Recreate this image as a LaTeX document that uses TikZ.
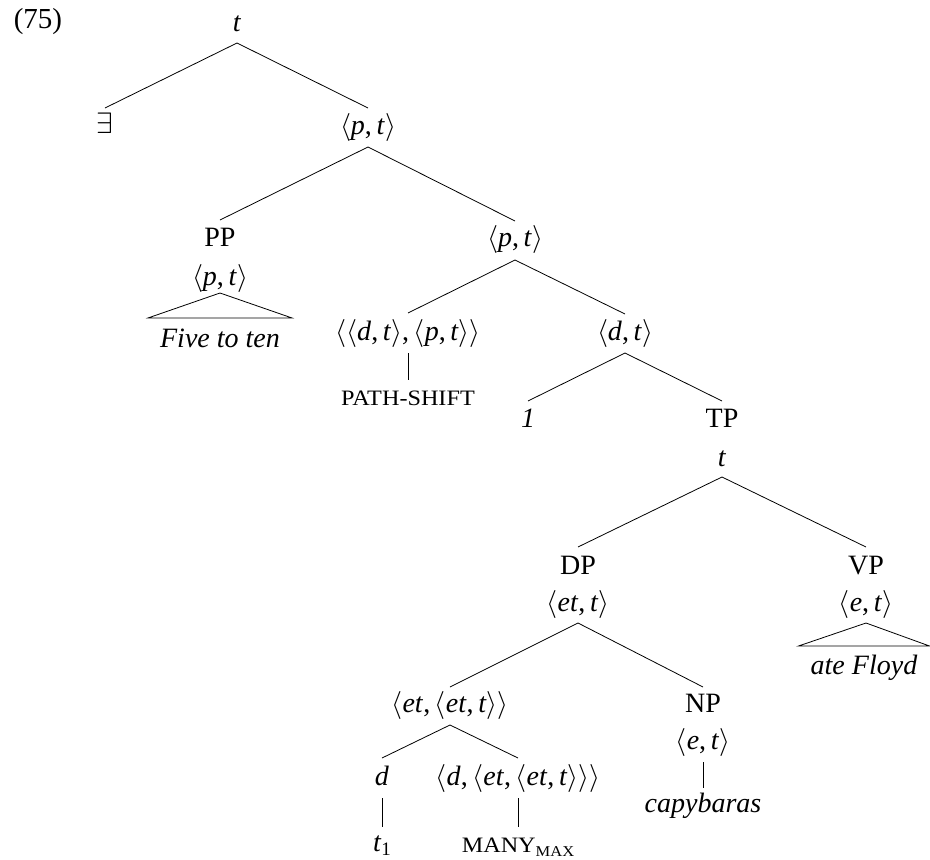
\documentclass[tikz,border=0pt]{standalone}
\usepackage{fontspec}
\usepackage{unicode-math}
\setmainfont{Liberation Serif}
\usepackage{graphicx}
\newcommand\Lb{$\langle$}
\newcommand\Rb{$\rangle$}
\newcommand\vi[1]{\textit{#1}}
\newcommand\Cm{,\,}
\newcommand\smc[1]{\scalebox{1.1}[1]{\fontsize{22}{26}\selectfont #1}}
\begin{document}
\begin{tikzpicture}[x=1pt,y=-1pt,
  every node/.style={font=\fontsize{28}{34}\selectfont, inner sep=0pt, anchor=base},
  edge/.style={line width=0.8pt},
  leaf/.style={inner xsep=12pt}]
\useasboundingbox (0,0) rectangle (930,860);
% nodes
\node (ex) at (38,28) {\fontsize{29}{34}\selectfont(75)};
\node (root) at (237,31) {\vi{t}};
\node (exists) at (105,133) {\fontsize{30}{34}\selectfont$\exists$};
\node (pt1) at (368,134) {\Lb\vi{p}\Cm\vi{t}\Rb};
\node (PP) at (220,246) {PP};
\node (ptPP) at (220,285) {\Lb\vi{p}\Cm\vi{t}\Rb};
\node[leaf] (five) at (220,347) {\vi{Five to ten}};
\node (pt2) at (515,246) {\Lb\vi{p}\Cm\vi{t}\Rb};
\node (dtpt) at (408,340) {\Lb\Lb\vi{d}\Cm\vi{t}\Rb\Cm\Lb\vi{p}\Cm\vi{t}\Rb\Rb};
\node (dt) at (625,340) {\Lb\vi{d}\Cm\vi{t}\Rb};
\node (shift) at (408,405) {\smc{PATH-SHIFT}};
\node (one) at (528,427) {\vi{1}};
\node (TP) at (722,427) {TP};
\node (tTP) at (722,466) {\vi{t}};
\node (DP) at (578,574) {DP};
\node (ettt) at (578,611) {\Lb\vi{et}\Cm\vi{t}\Rb};
\node (VP) at (866,574) {VP};
\node (etVP) at (866,611) {\Lb\vi{e}\Cm\vi{t}\Rb};
\node[leaf] (floyd) at (864,674) {\vi{ate Floyd}};
\node (eet) at (450,712) {\Lb\vi{et}\Cm\Lb\vi{et}\Cm\vi{t}\Rb\Rb};
\node (NP) at (703,712) {NP};
\node (etNP) at (703,749) {\Lb\vi{e}\Cm\vi{t}\Rb};
\node (capy) at (703,812) {\vi{capybaras}};
\node (d) at (382,785) {\vi{d}};
\node (many) at (518,785) {\Lb\vi{d}\Cm\Lb\vi{et}\Cm\Lb\vi{et}\Cm\vi{t}\Rb\Rb\Rb};
\node (t1) at (382,851) {\vi{t}\raisebox{-4pt}{\fontsize{19}{20}\selectfont 1}};
\node (manymax) at (518,852) {\smc{MANY}\raisebox{-4pt}{\scalebox{1.1}[1]{\fontsize{15}{17}\selectfont MAX}}};
% edges
\draw[edge] ([yshift=-12pt]root.base) -- ([yshift=25pt]exists.base);
\draw[edge] ([yshift=-12pt]root.base) -- ([yshift=26pt]pt1.base);
\draw[edge] ([yshift=-13pt]pt1.base) -- ([yshift=26pt]PP.base);
\draw[edge] ([yshift=-13pt]pt1.base) -- ([yshift=25pt]pt2.base);
\draw[edge] ([yshift=-8pt]ptPP.base) -- ([yshift=29pt]five.base west) -- ([yshift=29pt]five.base east) -- cycle;
\draw[edge] ([yshift=-14pt]pt2.base) -- ([yshift=27pt]dtpt.base);
\draw[edge] ([yshift=-14pt]pt2.base) -- ([yshift=26pt]dt.base);
\draw[edge] ([yshift=-13pt]dtpt.base) -- ([yshift=25pt]shift.base);
\draw[edge] ([yshift=-13pt]dt.base) -- ([yshift=26pt]one.base);
\draw[edge] ([yshift=-13pt]dt.base) -- ([yshift=26pt]TP.base);
\draw[edge] ([yshift=-11pt]tTP.base) -- ([yshift=27pt]DP.base);
\draw[edge] ([yshift=-11pt]tTP.base) -- ([yshift=27pt]VP.base);
\draw[edge] ([yshift=-12pt]ettt.base) -- ([yshift=25pt]eet.base);
\draw[edge] ([yshift=-12pt]ettt.base) -- ([yshift=25pt]NP.base);
\draw[edge] ([yshift=-12pt]etVP.base) -- ([yshift=28pt]floyd.base west) -- ([yshift=28pt]floyd.base east) -- cycle;
\draw[edge] ([yshift=-13pt]eet.base) -- ([yshift=27pt]d.base);
\draw[edge] ([yshift=-13pt]eet.base) -- ([yshift=27pt]many.base);
\draw[edge] ([yshift=-13pt]etNP.base) -- ([yshift=24pt]capy.base);
\draw[edge] ([yshift=-13pt]d.base) -- ([yshift=24pt]t1.base);
\draw[edge] ([yshift=-13pt]many.base) -- ([yshift=25pt]manymax.base);
\end{tikzpicture}
\end{document}
